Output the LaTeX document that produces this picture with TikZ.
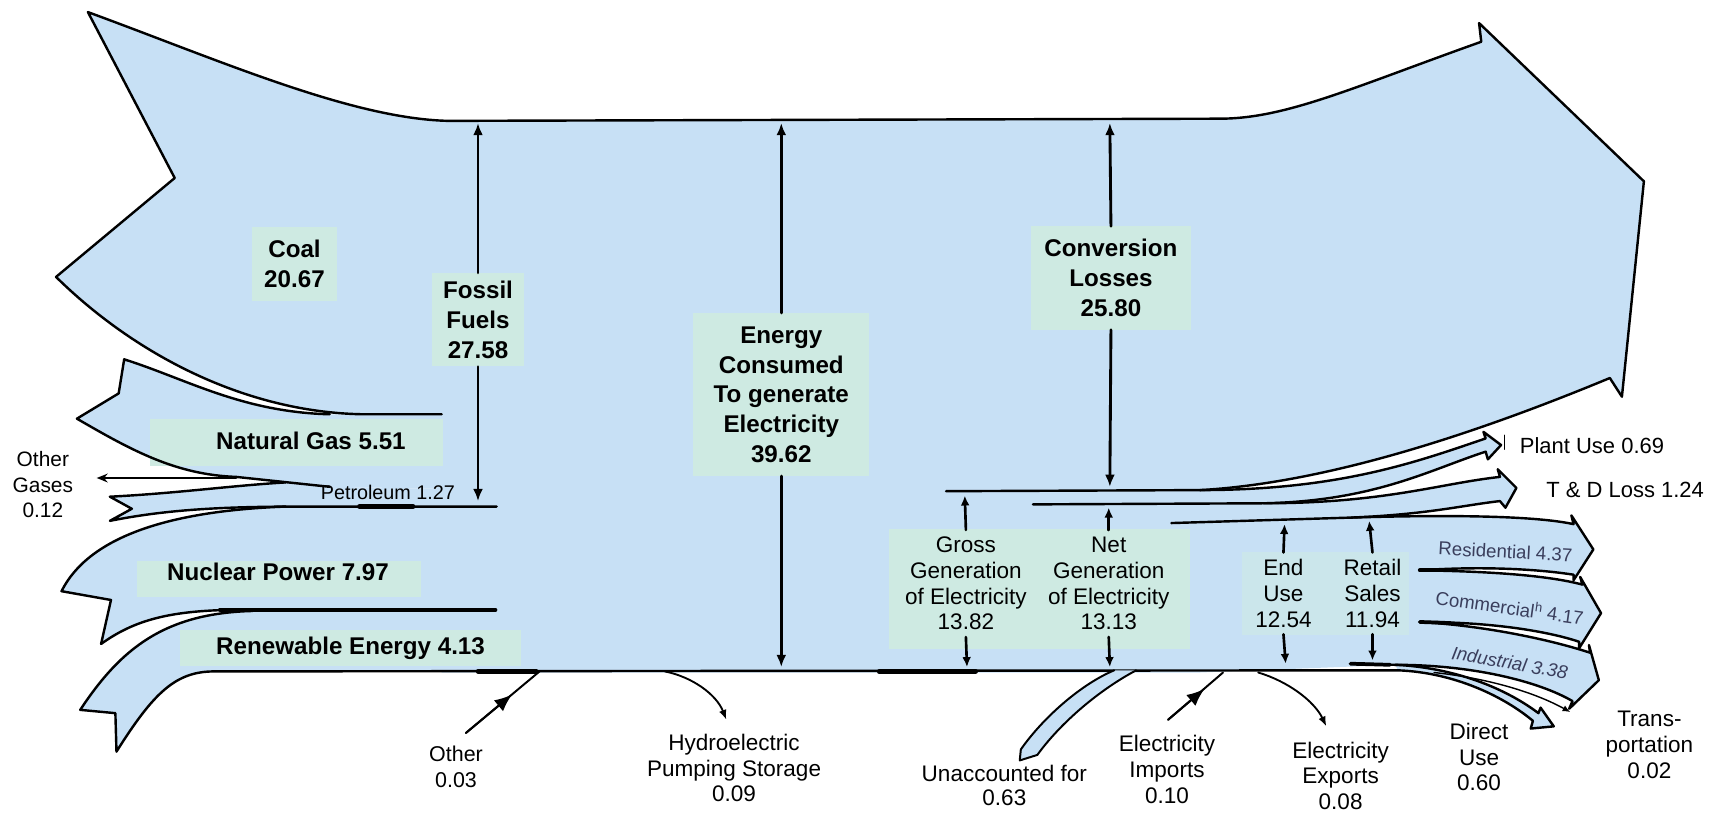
\documentclass[tikz,border=0pt]{standalone}
\usepackage{fontspec}
\setmainfont{Liberation Sans}
\usetikzlibrary{arrows.meta}
\definecolor{flow}{RGB}{199,224,245}
\definecolor{boxc}{RGB}{206,234,226}
\definecolor{sectc}{RGB}{58,62,92}
\tikzset{
 edge/.style={draw=black,line width=2.2pt},
 varrow/.style={draw=black,line width=2.6pt,-{Latex[length=11pt,width=9pt]}},
 sarrow/.style={draw=black,line width=2.4pt,-{Latex[length=9pt,width=8pt]}},
 thinarrow/.style={draw=black,line width=1.7pt,-{Latex[length=9pt,width=7pt]}},
 bigl/.style={font=\fontsize{22}{27}\selectfont\bfseries,align=center,inner sep=0pt},
 lbox/.style={fill=boxc,inner sep=0pt},
 smt/.style={font=\fontsize{20.5}{23.5}\selectfont,align=center,inner sep=0pt},
 sectlbl/.style={font=\fontsize{17}{20}\selectfont,text=sectc,inner sep=0pt},
}
\begin{document}
\begin{tikzpicture}[x=1pt,y=-1pt,line join=round,line cap=round]
\useasboundingbox (0,0) rectangle (1568,742);
\fill[white] (0,0) rectangle (1568,742);

% ---------- blue fills ----------
\fill[flow] (408,110) -- (1110,108) .. controls (1170,108) and (1230,80) .. (1348,38) -- (1346,21) -- (1496,165) -- (1476,361) -- (1465,344) .. controls (1330,400) and (1200,440) .. (1092,446) -- (1092,612) -- (402,612) -- (402,110) -- cycle;
\fill[flow] (80,11) .. controls (200,55) and (320,108) .. (408,110) -- (410,377) -- (330,377) .. controls (220,375) and (120,320) .. (51,252) -- (159,162) -- cycle;
\fill[flow] (113,327) .. controls (170,345) and (220,375) .. (300,377) -- (410,377) -- (410,445) -- (300,443) -- (215,434) .. controls (160,432) and (120,410) .. (70,381) -- (108,358) -- cycle;
\fill[flow] (100,452) .. controls (160,449) and (210,442) .. (260,439) -- (300,443) -- (410,445) -- (410,461) -- (273,461) .. controls (200,461) and (150,464) .. (100,474) -- (120,463) -- cycle;
\fill[flow] (56,538) .. controls (80,490) and (150,465) .. (260,461) -- (410,461) -- (410,555) -- (210,555) .. controls (150,556) and (120,566) .. (92,586) -- (101,546) -- cycle;
\fill[flow] (73,646) .. controls (110,590) and (150,558) .. (230,556) -- (410,556) -- (410,611) -- (195,611) .. controls (160,611) and (140,630) .. (106,684) -- (105,649) -- cycle;
% right bands
\fill[flow] (1092,446) .. controls (1220,446) and (1290,420) .. (1352,399) -- (1350,393) -- (1366,405) -- (1354,418) -- (1352,411) .. controls (1300,428) and (1250,456) .. (1150,458) -- (1092,458) -- cycle;
\fill[flow] (1092,458) -- (1150,458) .. controls (1260,458) and (1310,440) .. (1365,434) -- (1363,427) -- (1380,444) -- (1370,462) -- (1365,456) .. controls (1330,460) and (1300,468) .. (1230,471) -- (1092,476) -- cycle;
\fill[flow] (1092,475) -- (1230,471) .. controls (1330,468) and (1400,470) .. (1432,477) -- (1430,469) -- (1450,500) -- (1432,528) -- (1432,523) .. controls (1400,518) and (1350,515) .. (1292,519) .. controls (1360,520) and (1410,524) .. (1440,532) -- (1438,525) -- (1457,558) -- (1437,590) -- (1437,584) .. controls (1410,575) and (1360,566) .. (1292,566) .. controls (1360,570) and (1420,585) .. (1447,594) -- (1446,587) -- (1455,619) -- (1428,645) -- (1431,638) .. controls (1400,620) and (1340,605) .. (1270,605) -- (1092,612) -- cycle;
\fill[flow] (1270,605) .. controls (1330,608) and (1375,630) .. (1400,649) -- (1402,644) -- (1414,661) -- (1393,663) -- (1395,656) .. controls (1370,635) and (1325,612) .. (1272,610) -- cycle;

% ---------- label boxes ----------
\node[lbox,minimum width=267,minimum height=43] (gasbox) at (270,403) {};
\node[lbox,minimum width=258,minimum height=33] (nucbox) at (254,527) {};
\node[fill=boxc,inner sep=0pt,minimum width=274,minimum height=109] (gnbox) at (946,536) {};
\node[fill=boxc!55!flow,inner sep=0pt,minimum width=152,minimum height=76] (erbox) at (1206,540) {};

% ---------- outlines ----------
\draw[edge] (861,447) -- (1092,446) .. controls (1200,440) and (1330,400) .. (1465,344) -- (1476,361) -- (1496,165) -- (1346,21) -- (1348,38) .. controls (1230,80) and (1170,108) .. (1110,108) -- (408,110) .. controls (320,108) and (200,55) .. (80,11) -- (159,162) -- (51,252) .. controls (120,320) and (220,375) .. (330,377) -- (402,377);
\draw[edge] (300,377) .. controls (220,375) and (170,345) .. (113,327) -- (108,358) -- (70,381) .. controls (120,410) and (160,432) .. (215,434) -- (300,443);
\draw[edge] (260,439) .. controls (210,442) and (160,449) .. (100,452) -- (120,463) -- (100,474) .. controls (150,464) and (200,461) .. (273,461) -- (452,461);
\draw[line width=4pt] (327,461) -- (376,461);
\draw[edge] (260,461) .. controls (150,465) and (80,490) .. (56,538) -- (101,546) -- (92,586) .. controls (120,566) and (150,556) .. (210,555);
\draw[line width=3.2pt] (200,555) -- (451,555);
\draw[edge] (230,556) .. controls (150,558) and (110,590) .. (73,646) -- (105,649) -- (106,684) .. controls (140,630) and (160,611) .. (195,611) -- (1272,610) .. controls (1325,612) and (1370,635) .. (1395,656);
\draw[line width=4pt] (435,611) -- (488,611);
\draw[line width=4pt] (800,611) -- (888,611);
% right bands outlines
\draw[edge] (940,459) -- (1150,458) .. controls (1250,456) and (1300,428) .. (1352,411) -- (1354,418) -- (1366,405) -- (1350,393) -- (1352,399) .. controls (1290,420) and (1220,446) .. (1092,446);
\draw[edge] (1150,458) .. controls (1260,458) and (1310,440) .. (1365,434) -- (1363,427) -- (1380,444) -- (1370,462) -- (1365,456) .. controls (1330,460) and (1300,468) .. (1230,471) -- (1066,476);
\draw[edge] (1230,471) .. controls (1330,468) and (1400,470) .. (1432,477) -- (1430,469) -- (1450,500) -- (1432,528) -- (1432,523) .. controls (1400,518) and (1350,515) .. (1292,519) .. controls (1360,520) and (1410,524) .. (1440,532) -- (1438,525) -- (1457,558) -- (1437,590) -- (1437,584) .. controls (1410,575) and (1360,566) .. (1292,566) .. controls (1360,570) and (1420,585) .. (1447,594) -- (1446,587) -- (1455,619) -- (1428,645) -- (1431,638) .. controls (1400,620) and (1340,605) .. (1270,605) -- (1229,604);
\draw[line width=3.4pt] (1292,519) -- (1320,519);
\draw[line width=3.4pt] (1292,566) -- (1320,567);
\draw[line width=3.4pt] (1229,604) -- (1265,605);
\draw[edge] (1270,605) .. controls (1330,608) and (1375,630) .. (1400,649) -- (1402,644) -- (1414,661) -- (1393,663) -- (1395,656);
% transportation
\coordinate (trA) at (1305,612);
\coordinate (trB) at (1429,648);
\draw[thinarrow,line width=1.3pt,-{Latex[length=7pt,width=6pt]}] (trA) .. controls (1360,618) and (1400,632) .. (trB);
% unaccounted for
\filldraw[fill=flow,draw=black,line width=1.8pt] (1014,610) .. controls (985,622) and (950,652) .. (929,682) -- (928,692) -- (944,687) .. controls (965,658) and (1000,628) .. (1034,610);
% plant use tick
\draw[line width=1pt] (1369,396) -- (1369,409);

% ---------- labels ----------
\node[bigl,lbox,minimum width=77,minimum height=67] (coal) at (268,240) {Coal\\20.67};
\node[bigl,lbox,minimum width=84,minimum height=85] (fossil) at (435,291) {Fossil\\Fuels\\27.58};
\node[bigl,lbox,minimum width=160,minimum height=148] (energy) at (711,359) {Energy\\Consumed\\To generate\\Electricity\\39.62};
\node[bigl,lbox,minimum width=146,minimum height=94] (conv) at (1011,253) {Conversion\\Losses\\25.80};
\node[bigl] (gas) at (283,401) {Natural Gas 5.51};
\node[bigl] (nuc) at (253,520) {Nuclear Power 7.97};
\node[bigl,lbox,minimum width=310,minimum height=33] (ren) at (319,590) {Renewable Energy 4.13};
\node[smt,font=\fontsize{19}{23}\selectfont] (othg) at (39,441) {Other\\Gases\\0.12};
\node[inner sep=0pt,font=\fontsize{18}{20}\selectfont] (pet) at (353,448) {Petroleum 1.27};
\node[smt] (gross) at (879,531) {Gross\\Generation\\of Electricity\\13.82};
\node[smt] (net) at (1009,531) {Net\\Generation\\of Electricity\\13.13};
\node[smt] (enduse) at (1168,540) {End\\Use\\12.54};
\node[smt] (retail) at (1249,540) {Retail\\Sales\\11.94};
\node[smt,anchor=west,font=\fontsize{20}{23}\selectfont] (plant) at (1383,406) {Plant Use 0.69};
\node[smt,anchor=west,font=\fontsize{20}{23}\selectfont] (td) at (1407,446) {T \& D Loss 1.24};
\node[sectlbl,rotate=-3] (res) at (1370,502) {Residential 4.37};
\node[sectlbl,rotate=-8] (com) at (1374,552) {Commercial\textsuperscript{h} 4.17};
\node[sectlbl,rotate=-10] (ind) at (1374,603) {\itshape Industrial 3.38};
\node[smt,font=\fontsize{19.5}{23.5}\selectfont] (other) at (415,698) {Other\\0.03};
\node[smt] (hydro) at (668,699) {Hydroelectric\\Pumping Storage\\0.09};
\node[smt,font=\fontsize{20.5}{21.5}\selectfont] (unacc) at (914,715) {Unaccounted for\\0.63};
\node[smt] (imp) at (1062,700) {Electricity\\Imports\\0.10};
\node[smt] (exp) at (1220,706) {Electricity\\Exports\\0.08};
\node[smt] (direct) at (1346,689) {Direct\\Use\\0.60};
\node[smt] (trans) at (1501,678) {Trans-\\portation\\0.02};

% ---------- measurement arrows ----------
\coordinate (fosT) at (435,112);
\coordinate (fosB) at (435,456);
\coordinate (engT) at (711,112);
\coordinate (engB) at (711,607);
\coordinate (cnvT) at (1010,112);
\coordinate (cnvB) at (1010,443);
\draw[varrow] (fossil.north) -- (fosT);
\draw[varrow] (fossil.south) -- (fosB);
\draw[varrow] (energy.north) -- (engT);
\draw[varrow] (energy.south) -- (engB);
\draw[varrow] (conv.north) -- (cnvT);
\draw[varrow] (conv.south) -- (cnvB);

\coordinate (grU) at (878,451);
\coordinate (grD) at (880,607);
\coordinate (ntU) at (1009,462);
\coordinate (ntD) at (1010,607);
\coordinate (euU) at (1169,477);
\coordinate (euD) at (1170,604);
\coordinate (rtU) at (1246,474);
\coordinate (rtD) at (1249,601);
\draw[sarrow] (gross.north) ++(0,-6) -- (grU);
\draw[sarrow] (gross.south) ++(0,6) -- (grD);
\draw[sarrow] (net.north) ++(0,-6) -- (ntU);
\draw[sarrow] (net.south) ++(0,6) -- (ntD);
\draw[sarrow] (enduse.north) ++(0,-6) -- (euU);
\draw[sarrow] (enduse.south) ++(0,6) -- (euD);
\draw[sarrow] (retail.north) ++(0,-6) -- (rtU);
\draw[sarrow] (retail.south) ++(0,6) -- (rtD);

% other gases
\coordinate (ogA) at (215,435);
\coordinate (ogB) at (88,435);
\draw[line width=1.6pt,-{Stealth[length=10pt,width=8pt]}] (ogA) -- (ogB);

% small flows at the bottom
\coordinate (oA) at (424,667);
\coordinate (oM) at (466,632);
\coordinate (oB) at (491,611);
\draw[line width=1.8pt] (oA) -- (oB);
\draw[line width=1.8pt,-{Latex[length=16pt,width=13pt]}] (oA) -- (oM);
\coordinate (iA) at (1063,655);
\coordinate (iM) at (1096,627);
\coordinate (iB) at (1113,612);
\draw[line width=1.8pt] (iA) -- (iB);
\draw[line width=1.8pt,-{Latex[length=16pt,width=13pt]}] (iA) -- (iM);
\coordinate (hA) at (605,611);
\coordinate (hB) at (661,655);
\draw[thinarrow] (hA) .. controls (630,616) and (652,632) .. (hB);
\coordinate (eA) at (1145,612);
\coordinate (eB) at (1207,661);
\draw[thinarrow] (eA) .. controls (1172,620) and (1196,638) .. (eB);
\end{tikzpicture}
\end{document}
